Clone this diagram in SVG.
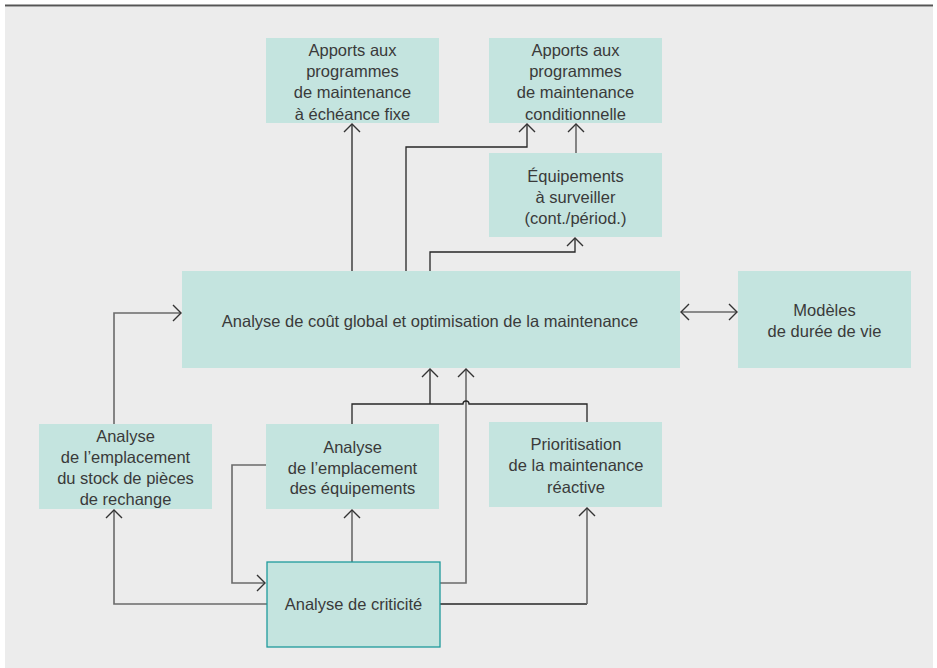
<svg xmlns="http://www.w3.org/2000/svg" width="937" height="668" viewBox="0 0 937 668">
<defs>
<style>
.bg{fill:#ececec}
.box{fill:#c4e4df}
.crit{fill:#c4e4df;stroke:#1f9a9c;stroke-width:1.3}
text{font-family:"Liberation Sans",Arial,sans-serif;font-size:16.5px;fill:#3a3a3a;text-anchor:middle}
.c{fill:none;stroke:#6a6a6a;stroke-width:1.6}
.k{fill:none;stroke:#262626;stroke-width:1.3}
</style>
<marker id="ah" markerUnits="userSpaceOnUse" markerWidth="20" markerHeight="20" refX="10" refY="10" orient="auto-start-reverse" viewBox="0 0 20 20">
<path d="M2,2 L10,10 L2,18" fill="none" stroke="#333" stroke-width="1.4"/>
</marker>
</defs>
<rect class="bg" x="5" y="7" width="928" height="661"/>
<line x1="5" y1="5.5" x2="933" y2="5.5" stroke="#555" stroke-width="2.2"/>

<g id="connectors">
<path class="c" d="M114,424 V313 H181" marker-end="url(#ah)"/>
<path class="k" d="M352,271 V124" marker-end="url(#ah)"/>
<path class="k" d="M406,271 V147 H527 V124" marker-end="url(#ah)"/>
<path class="k" d="M430,271 V252 H575 V238" marker-end="url(#ah)"/>
<path class="c" d="M576,153 V124" marker-end="url(#ah)"/>
<path class="c" d="M681,312 H737" marker-start="url(#ah)" marker-end="url(#ah)"/>
<path class="c" d="M352,562 V510" marker-end="url(#ah)"/>
<path class="c" d="M267,604 H114 V510" marker-end="url(#ah)"/>
<path class="c" d="M266,465 H232 V583 H265" marker-end="url(#ah)"/>
<path class="c" d="M440,583 H466 V369" marker-end="url(#ah)"/>
<path class="k" d="M440,604 H587"/>
<path class="c" d="M587,604 V508" marker-end="url(#ah)"/>
<path class="k" d="M352,424 V404 H463 A3,3 0 0 1 469,404 H587 V422"/>
<path class="k" d="M430,404 V369" marker-end="url(#ah)"/>
</g>

<g id="n-fixe">
<rect class="box" x="266" y="38" width="173" height="85"/>
<text x="352.5" y="55.5">Apports aux</text>
<text x="352.5" y="77">programmes</text>
<text x="352.5" y="98">de maintenance</text>
<text x="352.5" y="119.5">à échéance fixe</text>
</g>
<g id="n-cond">
<rect class="box" x="489" y="38" width="173" height="85"/>
<text x="575.5" y="55.5">Apports aux</text>
<text x="575.5" y="77">programmes</text>
<text x="575.5" y="98">de maintenance</text>
<text x="575.5" y="119.5">conditionnelle</text>
</g>
<g id="n-equip">
<rect class="box" x="489" y="153" width="173" height="84"/>
<text x="575.5" y="181.5">Équipements</text>
<text x="575.5" y="202.5">à surveiller</text>
<text x="575.5" y="223.5">(cont./périod.)</text>
</g>
<g id="n-main">
<rect class="box" x="182" y="271" width="498" height="97"/>
<text x="430" y="326.5">Analyse de coût global et optimisation de la maintenance</text>
</g>
<g id="n-modeles">
<rect class="box" x="738" y="271" width="173" height="97"/>
<text x="824.5" y="315.5">Modèles</text>
<text x="824.5" y="337">de durée de vie</text>
</g>
<g id="n-pieces">
<rect class="box" x="39" y="424" width="173" height="85"/>
<text x="125.5" y="441.5">Analyse</text>
<text x="125.5" y="462.5">de l’emplacement</text>
<text x="125.5" y="484">du stock de pièces</text>
<text x="125.5" y="504.5">de rechange</text>
</g>
<g id="n-emplacement">
<rect class="box" x="266" y="424" width="173" height="85"/>
<text x="352.5" y="452.5">Analyse</text>
<text x="352.5" y="473.5">de l’emplacement</text>
<text x="352.5" y="494">des équipements</text>
</g>
<g id="n-prior">
<rect class="box" x="489" y="422" width="173" height="85"/>
<text x="576" y="449.5">Prioritisation</text>
<text x="576" y="471">de la maintenance</text>
<text x="576" y="492.5">réactive</text>
</g>
<g id="n-crit">
<rect class="crit" x="267" y="562" width="173" height="85"/>
<text x="353.5" y="609.5">Analyse de criticité</text>
</g>
</svg>
